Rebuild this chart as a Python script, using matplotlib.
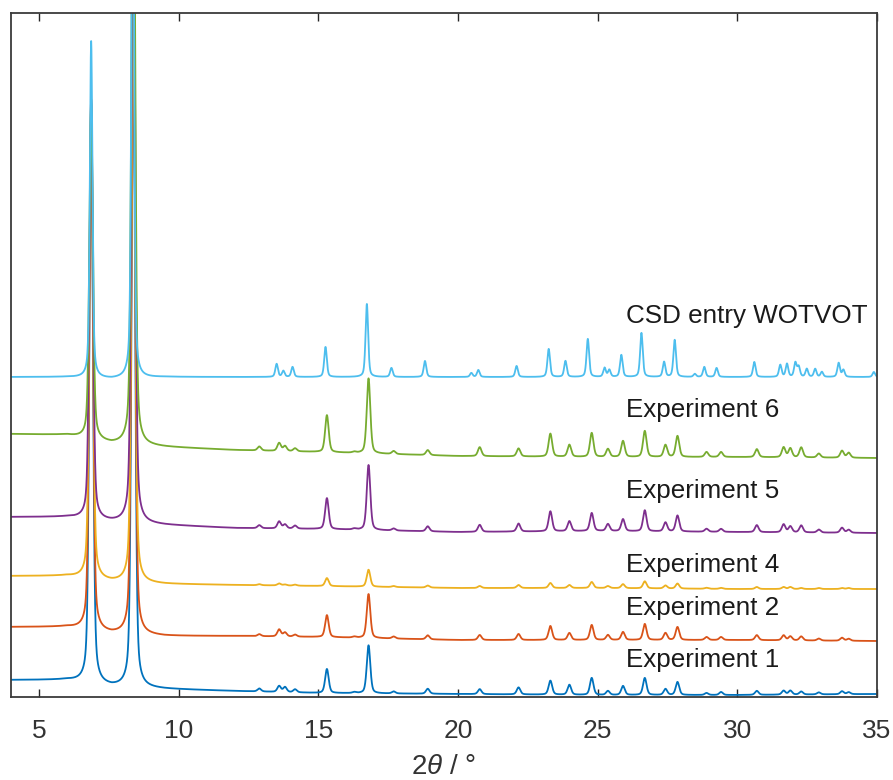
import numpy as np
import matplotlib
matplotlib.use("Agg")
import matplotlib.pyplot as plt

plt.rcParams['font.family'] = ['Liberation Sans', 'DejaVu Sans']
plt.rcParams['mathtext.fontset'] = 'custom'
plt.rcParams['mathtext.rm'] = 'Liberation Sans'
plt.rcParams['mathtext.it'] = 'Liberation Sans:italic'

# ---- diffraction data (2theta in degrees, intensities in plot units) ----
labels = ["Experiment 1", "Experiment 2", "Experiment 4", "Experiment 5",
          "Experiment 6", "CSD entry WOTVOT"]
colors = ["#0072BD", "#D95319", "#EDB120", "#7E2F8E", "#77AC30", "#4DBEEE"]

# reflections observed in the measured patterns
exp_pos = [6.87, 8.38, 12.89, 13.60, 13.81, 14.17, 15.31, 16.29, 16.80, 17.70,
           18.92, 20.78, 22.17, 23.31, 23.99, 24.79, 25.37, 25.91, 26.69, 27.43,
           27.86, 28.90, 29.42, 30.70, 31.66, 31.90, 32.29, 32.92, 33.75, 33.99]

exp1_h = [580, 650, 3, 6, 5, 3, 24, 1, 48, 2, 5, 5, 7, 14, 10, 17, 4, 9, 17, 6,
          13, 2, 3, 4, 4, 4, 3, 2, 3, 2]
exp2_h = [530, 650, 2, 7, 4, 2, 22, 1, 44, 2, 4, 5, 6, 14, 7, 15, 5, 8, 16, 7,
          13, 3, 3, 5, 5, 4, 4, 2, 3, 2]
exp4_h = [480, 600, 1, 2, 1, 1, 8, 0, 17, 1, 2, 2, 3, 5, 3, 6, 2, 4, 7, 3,
          5, 1, 1, 2, 2, 2, 1, 1, 1, 1]
exp5_h = [420, 680, 3, 7, 4, 3, 31, 1, 65, 2, 5, 7, 8, 20, 10, 18, 7, 12, 21, 9,
          16, 3, 3, 7, 8, 6, 7, 3, 5, 3]
exp6_h = [335, 700, 4, 8, 5, 3, 37, 1, 75, 3, 5, 9, 8, 23, 12, 24, 8, 16, 26, 12,
          21, 5, 5, 8, 10, 9, 10, 4, 7, 5]

# reflections of the calculated pattern
csd_pos = [6.87, 8.36, 13.51, 13.75, 14.08, 15.26, 16.74, 17.62, 18.82, 20.48,
           20.73, 22.10, 23.25, 23.85, 24.65, 25.25, 25.42, 25.85, 26.57, 27.38,
           27.76, 28.48, 28.82, 29.26, 30.61, 31.54, 31.78, 32.08, 32.20, 32.49,
           32.79, 33.03, 33.63, 33.80, 34.89]
csd_h = [337, 600, 13, 6, 10, 30, 73, 9, 16, 4, 7, 11, 28, 16, 38, 9, 7, 22, 44,
         15, 37, 3, 10, 9, 15, 12, 13, 14, 10, 8, 8, 5, 14, 7, 5]

# stacked baselines (offset + background) at these 2theta knots
bg_knots = [4, 6, 7.6, 9.5, 12, 15, 20, 25, 30, 35]
exp1_bg = [17, 17, 10, 8, 6, 4, 3, 2, 2, 3]
exp2_bg = [70, 70, 63, 61, 61, 60, 57, 57, 57, 56]
exp4_bg = [121, 121, 115, 113, 112, 111, 109, 109, 108, 108]
exp5_bg = [180, 180, 175, 172, 169, 168, 165, 166, 165, 164]
exp6_bg = [263, 262, 253, 250, 247, 245, 241, 240, 240, 239]
csd_bg = [320, 320, 318, 320, 320, 320, 320, 320, 320, 320]

xticks = [5, 10, 15, 20, 25, 30, 35]

label_x = 26.03
label_y = [30, 82, 125, 199, 280, 374]


def pseudo_voigt(x, centres, heights, fwhm, eta):
    y = np.zeros_like(x)
    for c, h in zip(centres, heights):
        d = (x - c) / fwhm
        y += h * (eta / (1 + 4 * d ** 2) + (1 - eta) * np.exp(-4 * np.log(2) * d ** 2))
    return y


x = np.arange(4.0, 35.0 + 1e-9, 0.004)

patterns = [
    (exp_pos, exp1_h, exp1_bg, 0.15, 0.4),
    (exp_pos, exp2_h, exp2_bg, 0.15, 0.4),
    (exp_pos, exp4_h, exp4_bg, 0.15, 0.4),
    (exp_pos, exp5_h, exp5_bg, 0.15, 0.4),
    (exp_pos, exp6_h, exp6_bg, 0.15, 0.4),
    (csd_pos, csd_h, csd_bg, 0.11, 0.45),
]

fig = plt.figure(figsize=(8.93, 7.80), dpi=100)
ax = fig.add_axes([0.0123, 0.1064, 0.9697, 0.8769])

for (pos, h, bg, w, eta), col in zip(patterns, colors):
    y = np.interp(x, bg_knots, bg) + pseudo_voigt(x, pos, h, w, eta)
    ax.plot(x, y, color=col, lw=1.3)

for lab, ly in zip(labels, label_y):
    ax.text(label_x, ly, lab, fontsize=18.7, color="#1a1a1a", va="baseline", ha="left")

ax.set_xlim(4, 35)
ax.set_ylim(0, 684)
ax.set_xticks(xticks)
ax.set_xticklabels([str(t) for t in xticks])
ax.set_yticks([])
ax.tick_params(axis='x', direction='in', top=True, bottom=True, length=6,
               width=1.0, color="#262626", labelsize=19, pad=16,
               labelcolor="#333333")
for s in ax.spines.values():
    s.set_color("#3a3a3a")
    s.set_linewidth(1.3)

ax.set_xlabel(r"2$\theta$ / °", fontsize=20, color="#333333", labelpad=8)

fig.savefig("out.png", dpi=100)
